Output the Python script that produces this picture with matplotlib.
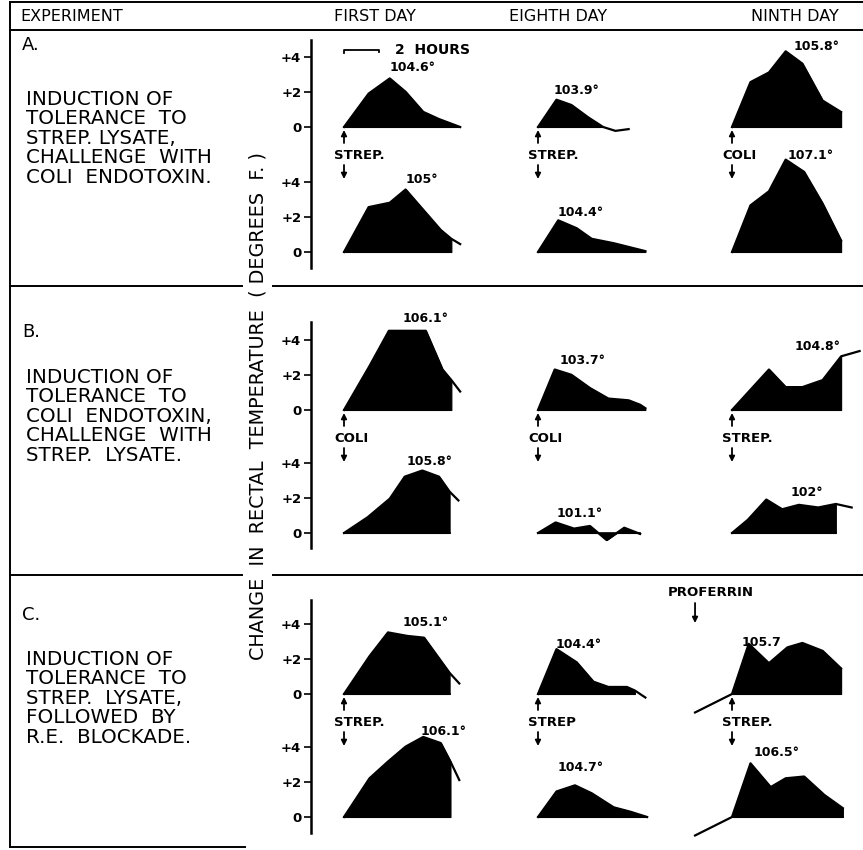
import numpy as np
import matplotlib
matplotlib.use("Agg")
import matplotlib.pyplot as plt

W, H = 863, 850
PX = 17.6  # pixels per hour and per degree F

# ---- data: hours after injection / change in rectal temperature (deg F) ----
# Experiment A
A_FIRST_TOP_HR = [0, 1.4, 2.6, 3.5, 4.5, 5.4, 6.6]
A_FIRST_TOP_DEG = [0, 1.9, 2.76, 2.0, 0.86, 0.45, 0.0]
A_FIRST_BOT_HR = [0, 1.4, 2.6, 3.5, 4.5, 5.5, 6.1, 6.6]
A_FIRST_BOT_DEG = [0, 2.55, 2.8, 3.55, 2.4, 1.25, 0.75, 0.45]
A_EIGHTH_TOP_HR = [0, 1.05, 1.9, 2.85, 3.7, 4.4, 5.15]
A_EIGHTH_TOP_DEG = [0, 1.55, 1.25, 0.55, 0.0, -0.22, -0.12]
A_EIGHTH_BOT_HR = [0, 1.15, 2.2, 3.05, 4.3, 6.1]
A_EIGHTH_BOT_DEG = [0, 1.8, 1.35, 0.75, 0.5, 0.05]
A_NINTH_TOP_HR = [0, 1.05, 2.1, 3.05, 4.0, 5.15, 6.2]
A_NINTH_TOP_DEG = [0, 2.55, 3.1, 4.3, 3.6, 1.5, 0.85]
A_NINTH_BOT_HR = [0, 1.05, 2.1, 3.05, 4.1, 5.15, 6.2]
A_NINTH_BOT_DEG = [0, 2.65, 3.45, 5.25, 4.55, 2.75, 0.65]
# Experiment B
B_FIRST_TOP_HR = [0, 1.45, 2.55, 4.65, 5.6, 6.1, 6.6]
B_FIRST_TOP_DEG = [0, 2.5, 4.5, 4.5, 2.3, 1.7, 1.05]
B_FIRST_BOT_HR = [0, 1.35, 2.6, 3.45, 4.45, 5.4, 6.0, 6.5]
B_FIRST_BOT_DEG = [0, 0.9, 1.95, 3.2, 3.55, 3.2, 2.35, 1.85]
B_EIGHTH_TOP_HR = [0, 0.95, 1.9, 2.95, 4.0, 5.15, 5.8, 6.1]
B_EIGHTH_TOP_DEG = [0, 2.3, 2.0, 1.25, 0.65, 0.55, 0.3, 0.1]
B_EIGHTH_BOT_HR = [0, 1.0, 2.05, 2.95, 3.9, 4.9, 5.8]
B_EIGHTH_BOT_DEG = [0, 0.6, 0.25, 0.4, -0.4, 0.3, -0.05]
B_NINTH_TOP_HR = [0, 2.1, 3.05, 4.0, 5.15, 6.2, 7.25]
B_NINTH_TOP_DEG = [0, 2.3, 1.3, 1.3, 1.7, 3.05, 3.35]
B_NINTH_BOT_HR = [0, 0.9, 1.95, 2.85, 3.8, 4.9, 5.9, 6.8]
B_NINTH_BOT_DEG = [0, 0.75, 1.9, 1.35, 1.6, 1.45, 1.65, 1.45]
# Experiment C
C_FIRST_TOP_HR = [0, 1.45, 2.5, 3.6, 4.55, 6.0, 6.55]
C_FIRST_TOP_DEG = [0, 2.15, 3.5, 3.3, 3.2, 1.2, 0.6]
C_FIRST_BOT_HR = [0, 1.45, 2.5, 3.5, 4.5, 5.5, 6.05, 6.55]
C_FIRST_BOT_DEG = [0, 2.2, 3.15, 4.0, 4.55, 4.2, 3.15, 2.1]
C_EIGHTH_TOP_HR = [0, 1.05, 2.2, 3.15, 4.0, 5.05, 5.5, 6.1]
C_EIGHTH_TOP_DEG = [0, 2.55, 1.8, 0.7, 0.4, 0.4, 0.2, -0.2]
C_EIGHTH_BOT_HR = [0, 1.05, 2.1, 3.05, 4.3, 5.25, 6.2]
C_EIGHTH_BOT_DEG = [0, 1.45, 1.8, 1.35, 0.55, 0.3, 0.0]
C_NINTH_TOP_HR = [-2.1, 0, 0.95, 2.1, 3.15, 4.0, 5.15, 6.2]
C_NINTH_TOP_DEG = [-1.05, 0, 2.85, 1.75, 2.65, 2.9, 2.45, 1.45]
C_NINTH_BOT_HR = [-2.1, 0, 1.05, 2.2, 3.05, 4.1, 5.25, 6.3]
C_NINTH_BOT_DEG = [-1.05, 0, 3.05, 1.7, 2.2, 2.3, 1.25, 0.5]

# last hour of the shaded area (trace continues as a line after it)
FILL_STOP = [
    [[6.6, 6.1], [3.7, 6.1], [6.2, 6.2]],
    [[6.1, 6.0], [6.1, 5.8], [6.2, 5.9]],
    [[6.0, 6.05], [5.5, 6.2], [6.2, 6.3]],
]
PEAK_LABELS = [
    [["104.6°", "105°"], ["103.9°", "104.4°"], ["105.8°", "107.1°"]],
    [["106.1°", "105.8°"], ["103.7°", "101.1°"], ["104.8°", "102°"]],
    [["105.1°", "106.1°"], ["104.4°", "104.7°"], ["105.7", "106.5°"]],
]
INJECTIONS = [["STREP.", "STREP.", "COLI"],
              ["COLI", "COLI", "STREP."],
              ["STREP.", "STREP", "STREP."]]
DAYS = ["FIRST DAY", "EIGHTH DAY", "NINTH DAY"]
ROW_TAGS = ["A.", "B.", "C."]
ROW_TEXT = [
    "INDUCTION OF\nTOLERANCE  TO\nSTREP. LYSATE,\nCHALLENGE  WITH\nCOLI  ENDOTOXIN.",
    "INDUCTION OF\nTOLERANCE  TO\nCOLI  ENDOTOXIN,\nCHALLENGE  WITH\nSTREP.  LYSATE.",
    "INDUCTION OF\nTOLERANCE  TO\nSTREP.  LYSATE,\nFOLLOWED  BY\nR.E.  BLOCKADE.",
]

HR = [
    [[A_FIRST_TOP_HR, A_FIRST_BOT_HR], [A_EIGHTH_TOP_HR, A_EIGHTH_BOT_HR], [A_NINTH_TOP_HR, A_NINTH_BOT_HR]],
    [[B_FIRST_TOP_HR, B_FIRST_BOT_HR], [B_EIGHTH_TOP_HR, B_EIGHTH_BOT_HR], [B_NINTH_TOP_HR, B_NINTH_BOT_HR]],
    [[C_FIRST_TOP_HR, C_FIRST_BOT_HR], [C_EIGHTH_TOP_HR, C_EIGHTH_BOT_HR], [C_NINTH_TOP_HR, C_NINTH_BOT_HR]],
]
DEG = [
    [[A_FIRST_TOP_DEG, A_FIRST_BOT_DEG], [A_EIGHTH_TOP_DEG, A_EIGHTH_BOT_DEG], [A_NINTH_TOP_DEG, A_NINTH_BOT_DEG]],
    [[B_FIRST_TOP_DEG, B_FIRST_BOT_DEG], [B_EIGHTH_TOP_DEG, B_EIGHTH_BOT_DEG], [B_NINTH_TOP_DEG, B_NINTH_BOT_DEG]],
    [[C_FIRST_TOP_DEG, C_FIRST_BOT_DEG], [C_EIGHTH_TOP_DEG, C_EIGHTH_BOT_DEG], [C_NINTH_TOP_DEG, C_NINTH_BOT_DEG]],
]

# ---- layout (pixels) ----
COL_X = [344, 538, 732]                      # x of injection time per column
ROW_ZERO = [(127, 252), (410, 533), (694, 817)]  # y of zero line, top / bottom trace
ROW_AXIS = [(40, 268), (322, 548), (600, 833)]   # extent of the y axis line
AXIS_X = 311
XLIM = (-2.6, 7.6)
YLIM = (-1.4, 5.6)
LABEL_OFFSETS = [
    [[(23, 11), (16, 10)], [(20, 9), (22, 8)], [(31, 5), (25, 4)]],
    [[(37, 12), (7, 9)], [(28, 9), (24, 9)], [(-42, 5), (41, 7)]],
    [[(38, 10), (20, 5)], [(22, 5), (6, 18)], [(-41, 0), (26, 11)]],
]

fig = plt.figure(figsize=(W / 100, H / 100), dpi=100)


def px_axes(x0, y0, x1, y1):
    return fig.add_axes([x0 / W, 1 - y1 / H, (x1 - x0) / W, (y1 - y0) / H])


# overlay in pixel coordinates for frame and text
fr = px_axes(0, 0, W, H)
fr.set_xlim(0, W)
fr.set_ylim(H, 0)
fr.axis("off")

line_kw = dict(color="black", lw=1.4)
fr.plot([10, W], [2, 2], **line_kw)
fr.plot([10, W], [30, 30], **line_kw)
fr.plot([10, 10], [2, 847], **line_kw)
fr.plot([10, 245], [847, 847], **line_kw)
for y in (286, 575):
    fr.plot([10, 242], [y, y], **line_kw)
    fr.plot([273, W], [y, y], **line_kw)

fr.text(20, 16, "EXPERIMENT", fontsize=11.5, va="center", ha="left")
for cx, day in zip([375, 558, 795], DAYS):
    fr.text(cx, 16, day, fontsize=11.5, va="center", ha="center")

fr.text(258, 406, "CHANGE  IN  RECTAL  TEMPERATURE  ( DEGREES  F. )",
        rotation=90, fontsize=13.8, va="center", ha="center")

TAG_Y = [45, 332, 615]
TEXT_Y = [100, 378, 660]
for r in range(3):
    fr.text(22, TAG_Y[r], ROW_TAGS[r], fontsize=13, va="center", ha="left")
    fr.text(26, TEXT_Y[r] - 10, ROW_TEXT[r], fontsize=14.3, va="top", ha="left",
            linespacing=1.03)

arrow_kw = dict(arrowstyle="-|>", color="black", lw=1.3, mutation_scale=8,
                shrinkA=0, shrinkB=0)

for r in range(3):
    zt, zb = ROW_ZERO[r]
    # row y axis
    at, ab = ROW_AXIS[r]
    yax = px_axes(AXIS_X, at, AXIS_X + 2, ab)
    yax.set_ylim((zb - ab) / PX, (zb - at) / PX)
    off = (zb - zt) / PX
    yax.set_yticks([0, 2, 4, off, off + 2, off + 4])
    yax.set_yticklabels(["0", "+2", "+4", "0", "+2", "+4"])
    yax.set_xticks([])
    for s in ("top", "right", "bottom"):
        yax.spines[s].set_visible(False)
    yax.spines["left"].set_linewidth(1.8)
    yax.tick_params(axis="y", direction="out", length=5, width=1.2, pad=2,
                    labelsize=9.5)
    for t in yax.get_yticklabels():
        t.set_fontweight("bold")
    yax.patch.set_alpha(0)

    for c in range(3):
        cx = COL_X[c]
        for s, zy in enumerate((zt, zb)):
            ax = px_axes(cx + XLIM[0] * PX, zy - YLIM[1] * PX,
                         cx + XLIM[1] * PX, zy - YLIM[0] * PX)
            ax.set_xlim(*XLIM)
            ax.set_ylim(*YLIM)
            ax.axis("off")
            ax.patch.set_alpha(0)
            hr = np.array(HR[r][c][s])
            deg = np.array(DEG[r][c][s])
            stop = FILL_STOP[r][c][s]
            m = (hr >= 0) & (hr <= stop + 1e-9)
            ax.fill_between(hr[m], deg[m], 0, color="black", lw=0.8)
            ax.plot(hr, deg, color="black", lw=1.6)
            ax.plot([hr[m][0], hr[m][-1]], [0, 0], color="black", lw=1.2)
            i = int(np.argmax(deg))
            ax.annotate(PEAK_LABELS[r][c][s], xy=(hr[i], deg[i]),
                        xytext=LABEL_OFFSETS[r][c][s], textcoords="offset pixels",
                        ha="center", va="center", fontsize=9, fontweight="bold")
            if r == 0 and c == 0 and s == 0:
                # 2-hour scale bar
                ax.plot([0, 0, 2, 2], [4.2, 4.4, 4.4, 4.25], color="black", lw=1.3)
                ax.text(2.9, 4.4, "2  HOURS", fontsize=10, fontweight="bold",
                        va="center", ha="left")
            if r == 2 and c == 2 and s == 0:
                # proferrin given at start of pre-injection trace
                px0 = cx + hr[0] * PX
                fr.text(px0 + 16, 593, "PROFERRIN", fontsize=9.5, fontweight="bold",
                        ha="center", va="center")
                fr.annotate("", xy=(px0, 623), xytext=(px0, 603), arrowprops=arrow_kw)

        # injection arrows and label
        fr.annotate("", xy=(cx, zt + 3), xytext=(cx, zt + 16), arrowprops=arrow_kw)
        fr.text(cx - 10, zt + 28, INJECTIONS[r][c], fontsize=9.5, fontweight="bold",
                ha="left", va="center")
        fr.annotate("", xy=(cx, zt + 52), xytext=(cx, zt + 38), arrowprops=arrow_kw)

fig.savefig("out.png", dpi=100, facecolor="white")
